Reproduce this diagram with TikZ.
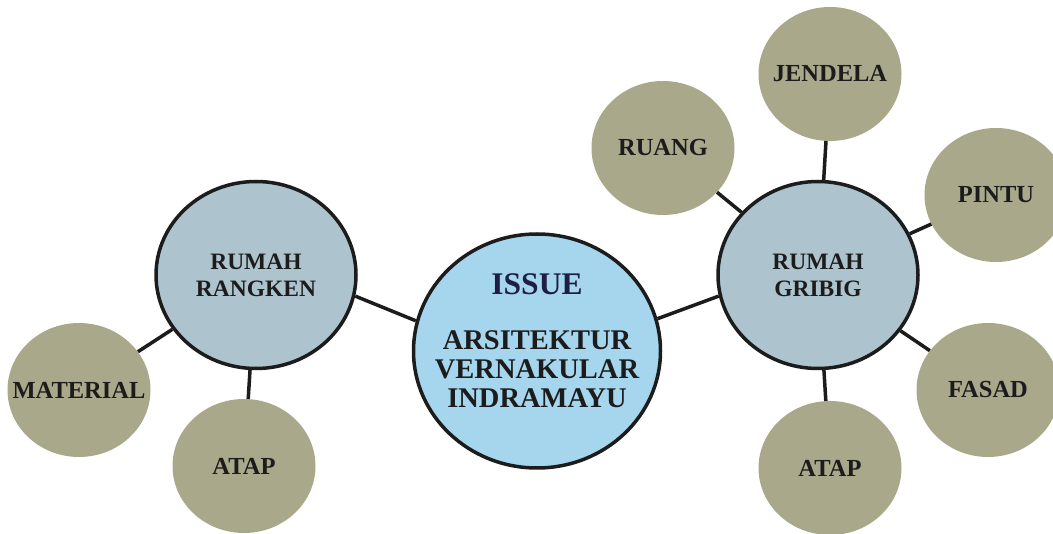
\documentclass[tikz,border=0pt]{standalone}
\usepackage{fontspec}
\setmainfont{Liberation Serif}
\usetikzlibrary{shapes.geometric}

\definecolor{issueblue}{RGB}{166,214,238}
\definecolor{rumahgrey}{RGB}{173,196,207}
\definecolor{aspekolive}{RGB}{169,168,139}
\definecolor{issuenavy}{RGB}{30,30,68}
\definecolor{ink}{RGB}{28,28,28}

\begin{document}
\begin{tikzpicture}[x=1pt, y=-1pt,
    issuenode/.style={ellipse, draw=ink, line width=3.5pt, fill=issueblue,
      minimum width=247pt, minimum height=234pt, inner sep=0pt},
    rumahnode/.style={ellipse, draw=ink, line width=3.5pt, fill=rumahgrey,
      minimum width=200pt, minimum height=187pt, inner sep=0pt, align=center,
      text=ink, font=\bfseries\fontsize{23.5}{27}\selectfont},
    aspektext/.style={text=ink, inner sep=0pt,
      font=\bfseries\fontsize{24.5}{27}\selectfont},
    aspek/.style={ellipse, fill=aspekolive, minimum width=143pt,
      minimum height=134pt, inner sep=0pt, label={[aspektext]center:#1}},
    link/.style={draw=ink, line width=3.5pt}]
  \useasboundingbox (0,0) rectangle (1053,534);

  % Central issue and the two house types
  \node[issuenode] (issue) at (537,351) {};
  \node[text=issuenavy, font=\bfseries\fontsize{31.5}{31.5}\selectfont]
    (issuetitle) at (537,284) {ISSUE};
  \node[align=center, text=ink, font=\bfseries\fontsize{28.5}{29}\selectfont]
    (issuetext) at (537,369) {ARSITEKTUR\\VERNAKULAR\\INDRAMAYU};
  \node[rumahnode] (rangken) at (256,275) {RUMAH\\RANGKEN};
  \node[rumahnode] (gribig) at (818,275) {RUMAH\\GRIBIG};

  % Aspects studied for each house
  \foreach \name/\x/\y/\txt in {material/79/390/MATERIAL, atapL/244/466/ATAP,
      ruang/663/148/RUANG, jendela/830/74/JENDELA, pintu/996/195/PINTU,
      fasad/988/390/FASAD, atapR/830/468/ATAP}
    \node[aspek=\txt] (\name) at (\x,\y) {};

  % Connectors
  \draw[link] (rangken.-12) -- (issue.166);
  \draw[link] (gribig.-168) -- (issue.15);
  \foreach \a/\b in {rangken/material, rangken/atapL, gribig/ruang,
      gribig/jendela, gribig/pintu, gribig/fasad, gribig/atapR}
    \draw[link] (\a) -- (\b);
\end{tikzpicture}
\end{document}
